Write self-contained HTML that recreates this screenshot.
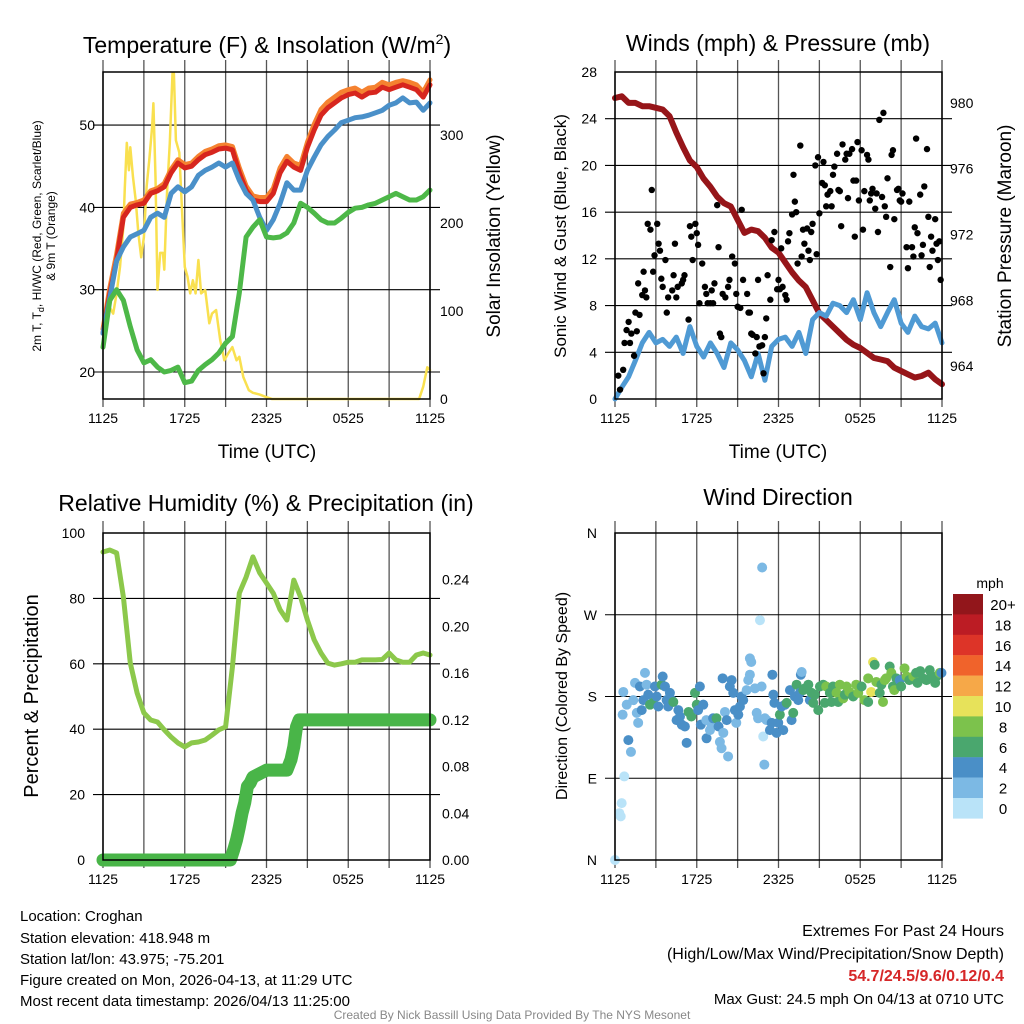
<!DOCTYPE html>
<html><head><meta charset="utf-8"><style>
html,body{margin:0;padding:0;background:#fff;}
svg{display:block;font-family:"Liberation Sans",Arial,sans-serif;}
</style></head><body>
<svg id="fig" width="1024" height="1024" viewBox="0 0 1024 1024" xmlns="http://www.w3.org/2000/svg">
<g id="grids"></g>
<g id="series"></g>
<g id="axes"></g>
<g id="labels" font-size="14" fill="#000"></g>

<text x="267" y="53" font-size="23" text-anchor="middle">Temperature (F) &amp; Insolation (W/m<tspan dy="-9" font-size="14">2</tspan><tspan dy="9">)</tspan></text>
<text x="778" y="51" font-size="23" text-anchor="middle">Winds (mph) &amp; Pressure (mb)</text>
<text x="266" y="511" font-size="23" text-anchor="middle">Relative Humidity (%) &amp; Precipitation (in)</text>
<text x="778" y="505" font-size="23" text-anchor="middle">Wind Direction</text>

<text transform="translate(41,236) rotate(-90)" font-size="12" text-anchor="middle">2m T, T<tspan font-size="9" dy="3">d</tspan><tspan dy="-3">, HI/WC (Red, Green, Scarlet/Blue)</tspan></text>
<text transform="translate(55,236) rotate(-90)" font-size="12" text-anchor="middle">&amp; 9m T (Orange)</text>
<text transform="translate(500,236) rotate(-90)" font-size="19" text-anchor="middle">Solar Insolation (Yellow)</text>
<text x="267" y="458" font-size="19" text-anchor="middle">Time (UTC)</text>
<text transform="translate(566,236) rotate(-90)" font-size="17" text-anchor="middle">Sonic Wind &amp; Gust (Blue, Black)</text>
<text transform="translate(1011,236) rotate(-90)" font-size="19" text-anchor="middle">Station Pressure (Maroon)</text>
<text x="778" y="458" font-size="19" text-anchor="middle">Time (UTC)</text>
<text transform="translate(38,696) rotate(-90)" font-size="20" text-anchor="middle">Percent &amp; Precipitation</text>
<text transform="translate(567,696) rotate(-90)" font-size="16" text-anchor="middle">Direction (Colored By Speed)</text>

<g id="colorbar"></g>
<text x="990" y="588" font-size="14" text-anchor="middle">mph</text>

<g font-size="15">
<text x="20" y="921">Location: Croghan</text>
<text x="20" y="943">Station elevation: 418.948 m</text>
<text x="20" y="964">Station lat/lon: 43.975; -75.201</text>
<text x="20" y="985">Figure created on Mon, 2026-04-13, at 11:29 UTC</text>
<text x="20" y="1006">Most recent data timestamp: 2026/04/13 11:25:00</text>
</g>
<g font-size="15" text-anchor="end">
<text x="1004" y="936" font-size="16">Extremes For Past 24 Hours</text>
<text x="1004" y="959" font-size="16">(High/Low/Max Wind/Precipitation/Snow Depth)</text>
<text x="1004" y="981" font-size="16" font-weight="bold" fill="#d62728">54.7/24.5/9.6/0.12/0.4</text>
<text x="1004" y="1004">Max Gust: 24.5 mph On 04/13 at 0710 UTC</text>
</g>
<text x="512" y="1019" font-size="12" fill="#888" text-anchor="middle">Created By Nick Bassill Using Data Provided By The NYS Mesonet</text>
</svg>
<script>
const xTickLabels = ["1125","1725","2325","0525","1125"];
const tempHours = [0,0.5,1,1.5,2,2.5,3,3.5,4,4.5,5,5.5,6,6.5,7,7.5,8,8.5,9,9.5,10,10.5,11,11.5,12,12.5,13,13.5,14,14.5,15,15.5,16,16.5,17,17.5,18,18.5,19,19.5,20,20.5,21,21.5,22,22.5,23,23.5,24];
const tempRed = [24.7,29.5,33.6,38.8,40,40.3,40.5,41.7,42,42.5,44.2,45.4,44.8,45,45.8,46.4,46.7,47.1,47.2,47,44.2,42.1,40.9,40.7,40.7,41.7,44.2,45.6,44.9,44.5,47.3,49.4,51.2,52.1,52.7,53.3,53.7,53.9,53.4,53.9,54,54.6,54.3,54.6,54.9,54.6,54.3,53.4,54.9];
const tempOrange = [25.2,30.2,34.3,39.3,40.4,40.6,40.9,42,42.3,42.9,44.6,45.8,45.2,45.4,46.2,46.8,47.1,47.5,47.6,47.4,44.8,42.6,41.4,41.2,41.2,42.3,44.8,46.2,45.4,45.1,47.9,50.1,51.9,52.8,53.4,54,54.3,54.5,54,54.5,54.6,55.2,54.9,55.2,55.4,55.2,54.9,54,55.5];
const tempBlue = [24.7,29,33.5,35.2,36.4,36.8,37.2,38.8,39.3,38.8,41.7,42.5,41.9,42.5,43.9,44.5,44.9,45.4,44.9,45.4,43.3,41.7,40.9,38.8,37.2,38.5,40.5,43,42.1,42.1,44.5,46.1,47.6,48.6,49.4,50.3,50.6,50.9,51,51.2,51.5,51.8,52.4,52.7,53.3,52.7,52.8,51.8,52.7];
const tempDew = [23,28.7,30,28.7,25.5,22.7,21.1,21.5,20.6,20,20.2,20.6,18.7,18.9,20.2,20.9,21.5,22.3,23.5,24.3,29.6,36.4,37.6,38.5,36.4,36.3,36.4,36.9,38.1,40.5,40,39.3,38.5,38.1,38.1,38.7,39.4,39.9,40,40.3,40.5,40.9,41.3,41.7,41.3,40.9,40.9,41.3,42.1];
const solarHours = [0,0.25,0.5,0.75,1,1.25,1.5,1.6,1.75,1.9,2,2.2,2.4,2.6,2.8,3,3.2,3.4,3.6,3.7,3.85,4,4.2,4.4,4.5,4.7,4.9,5.1,5.2,5.35,5.6,5.8,6,6.2,6.4,6.6,6.8,7,7.2,7.5,7.8,8,8.3,8.6,8.9,9.2,9.5,9.8,10,10.3,10.7,11,11.5,12,12.4,23.2,23.5,23.8,24];
const solarValues = [59,90,104,97,120,150,196,240,291,260,286,252,226,188,161,184,241,272,309,336,252,124,166,166,147,234,291,370,370,294,280,215,150,139,120,135,120,158,120,124,86,97,101,67,44,52,59,44,48,25,10,7,5,2,0,0,14,36,33];
const windHours = [0,0.5,1,1.5,2,2.5,3,3.5,4,4.5,5,5.5,6,6.5,7,7.5,8,8.5,9,9.5,10,10.5,11,11.5,12,12.5,13,13.5,14,14.5,15,15.5,16,16.5,17,17.5,18,18.5,19,19.5,20,20.5,21,21.5,22,22.5,23,23.5,24];
const windSpeed = [0,1,1.9,3.3,4.8,5.7,4.8,5.1,4.5,5.3,3.9,6.2,4.5,3.6,4.8,3.9,2.7,4.8,4.2,3.3,1.9,3.9,1.6,4.5,5.1,5.3,4.5,5.7,3.9,6.8,7.4,7.1,8.2,8,7.4,8.5,6.8,9.1,7.4,6.2,7.4,8.5,6.5,5.7,7.1,6.2,6,6.5,4.8];
const pressure = [980.3,980.4,980,980,979.8,979.8,979.7,979.6,979.2,978.2,977.3,976.5,976.1,975.4,974.9,974.3,973.9,973.7,972.9,972.1,972.3,972.2,971.8,971.2,970.9,970.3,969.7,969.2,968.8,968,967.2,966.8,966.4,966,965.6,965.3,965.1,964.8,964.5,964.4,964.3,963.9,963.7,963.5,963.3,963.4,963.6,963.2,962.9];
const gustHours = [0.24,0.37,0.6,0.7,0.85,1,1.1,1.2,1.4,1.5,1.6,1.7,1.8,2,2.1,2.2,2.3,2.4,2.6,2.7,2.8,2.9,3.1,3.2,3.3,3.4,3.5,3.7,3.8,3.9,4.2,4.3,4.4,4.5,4.6,4.9,5,5.1,5.4,5.5,5.6,5.7,5.9,6,6.1,6.2,6.4,6.6,6.7,6.8,7,7.1,7.2,7.3,7.5,7.6,7.7,7.8,7.9,8.1,8.3,8.4,8.6,8.8,8.9,9,9.2,9.3,9.4,9.7,9.8,9.9,10,10.1,10.3,10.4,10.5,10.6,10.8,10.9,11,11.1,11.2,11.4,11.5,11.7,11.9,12,12.1,12.2,12.3,12.5,12.6,12.7,12.8,13,13.1,13.2,13.3,13.4,13.6,13.7,13.8,13.9,14.1,14.2,14.3,14.4,14.5,14.7,14.8,14.9,15,15.2,15.3,15.4,15.5,15.6,15.8,15.9,16,16.1,16.3,16.4,16.5,16.6,16.7,16.9,17,17.1,17.2,17.4,17.5,17.6,17.7,17.8,17.9,18.1,18.2,18.3,18.5,18.6,18.7,18.8,18.9,19.1,19.2,19.3,19.4,19.6,19.7,19.8,19.9,20,20.2,20.3,20.4,20.5,20.7,20.8,20.9,21,21.1,21.4,21.5,21.6,21.8,21.9,22,22.1,22.2,22.4,22.5,22.6,22.7,22.9,23,23.1,23.2,23.3,23.5,23.6,23.7,23.8,23.9];
const gustValues = [2,0.8,2.5,4.8,5.9,6.6,4.8,5.6,3.7,7.4,5.8,9.9,7.2,8.9,10.9,9.3,8.7,15,14.5,17.9,10.9,12.3,15,13.3,12.7,10.3,9.6,11.9,7.4,8.7,9.3,10.6,13.3,8.7,9.6,9.9,10.2,10.6,6.8,14.8,13.9,11.9,15,14.2,13.2,8.2,11.6,9.6,9,8.2,8.2,9.3,8.2,9.9,16.6,13,5.6,5.3,9,8.7,9.6,10.2,12.2,11.6,9,7.9,7.8,16.2,10.2,9,7.4,7.4,5.6,5.5,3.9,5.3,10.2,4.5,4.6,2.2,5.3,6.9,10.6,8.5,13.6,14.3,9.4,10.2,9.4,12.9,9.6,8.9,8.5,13.5,14.2,15.8,19.2,16.9,16,11.6,21.7,12.2,14.5,13.3,14.6,12.7,11.9,14.3,15,20,12.4,20.7,15.9,18.5,20.3,18.3,16.5,17.5,17.8,16.5,19.2,19.9,21,17.9,17.8,14.8,21.8,20.5,21,17.2,21,21.4,18.7,13.9,18.7,22,17,21.3,14.5,17.8,20.9,20.5,17,17.6,18,16.3,17.6,14.3,23.9,17.3,24.5,16.5,15.6,18.9,11.3,20.9,21.3,15.4,17.9,18,17,16.9,17.6,13,11.2,16.9,13,12.2,14.7,22.3,14.2,17.5,12.3,13.2,18.2,21.4,15.6,11.3,13.9,12.7,15.4,13.3,11.9,13.5,10.2];
const rhHours = windHours;
const rhValues = [94.2,94.8,93.9,80.4,60.2,51.1,45,42.8,42.2,39.8,37.6,35.8,34.6,35.8,36.1,36.7,38.2,39.8,40.7,59,81.6,86.5,92.7,87.8,84.7,81.6,76.5,73.4,85.6,80.4,73.4,67.3,63.3,60.2,59.6,60,60.5,60.5,61.2,61.2,61.2,61.3,63.3,61.2,60.5,60.5,62.7,63.3,62.7];
const precipHours = [0,2,4,6,8,9,9.35,9.6,9.8,10,10.2,10.4,10.6,10.8,11,11.5,12,13,13.5,13.8,14,14.2,14.4,16,18,20,22,24];
const precipValues = [0,0,0,0,0,0,0,0.009,0.017,0.028,0.04,0.049,0.063,0.066,0.071,0.074,0.077,0.077,0.077,0.086,0.097,0.114,0.12,0.12,0.12,0.12,0.12,0.12];
const dirHours = [0,0.32,0.42,0.49,0.68,0.98,1.17,0.61,0.56,0.86,1.34,1.47,1.6,1.7,1.83,1.96,2.08,2.2,2.32,2.44,2.57,2.8,2.93,3.06,3.18,3.42,3.5,3.67,3.79,3.9,4.03,4.16,4.28,4.52,4.65,4.77,4.9,5.13,5.26,5.4,5.6,5.87,6,6.1,6.23,6.3,6.48,6.7,6.72,6.97,7.09,7.2,7.45,7.6,7.7,7.82,7.95,8.07,8.2,8.3,7.9,8.43,8.56,8.68,8.8,8.9,9.05,9.17,9.29,9.41,9.66,9.78,9.9,10,9.9,10.27,10.4,10.5,10.64,10.8,10.76,10.88,11,10.96,11.13,11.37,11.5,11.55,11.62,11.7,11.86,11.98,12.1,12.23,12.35,12.48,12.6,12.84,12.96,13.08,13.2,13.33,13.45,13.57,13.64,13.7,13.82,13.94,14.19,14.3,14.43,14.55,14.67,14.92,15.04,15.28,15.4,15.5,15.77,15.89,16,16.26,16.38,16.5,16.75,16.87,17,17.2,17.48,17.7,17.85,18.1,18.3,18.58,18.58,18.8,18.94,19.06,19.18,19.43,19.55,19.67,19.8,19.9,20.16,20.28,20.4,20.5,20.65,20.9,21,21.25,21.4,21.6,21.9,22.1,22.2,22.4,22.6,22.86,23.1,23.2,23.5,23.6,23.84,23.96];
const dirDegrees = [0,51.5,48,62.6,92,132,119,185,160,171,176,195,162,151,191,165,176,206,193,182,171,173,191,180,169,193,202,191,176,169,184,176,174,154,165,158,149,147,129,163,158,184,171,165,191,149,171,154,134,143,149,156,156,147,130,123,140,163,154,114,200,191,198,184,165,151,160,169,180,176,187,198,222,218,204,189,162,156,264,322,191,136,156,105,154,143,151,204,182,173,140,151,160,169,143,171,173,187,154,162,180,193,176,184,204,207,187,189,193,176,184,173,182,165,191,193,173,191,184,174,191,184,174,193,178,182,191,185,180,193,184,191,176,174,200,185,218,215,196,184,193,174,198,200,213,206,191,187,200,198,191,211,202,198,202,206,195,208,200,198,209,202,195,202,206,206];
const dirSpeeds = [1,1,1,1,1,5,3,2.5,2.5,3,2.5,2.5,3,3,5,5,5,2.5,3,5,7,7,5,5,5,7,5,5,5,5,5,5,7,5,5,5,5,5,5,7,7,7,7,5,5,5,5,3,5,3,3,5,7,5,2.5,3,3,3,5,3,5,5,5,5,5,3,5,5,5,5,3,3,3,2.5,3,3,3,2.5,1,2.5,3,1,3,3,3,5,5,5,5,5,5,5,7,5,5,5,7,5,5,7,5,7,5,5,5,3,7,7,7,5,7,7,7,7,7,7,7,9,7,7,7,9,7,9,9,7,9,9,7,9,9,7,9,7,9,10.5,10.5,7,9,7,7,9,9,9,7,9,7,9,7,5,7,9,9,7,9,7,7,7,7,7,7,7,7,7,9,5,7,7,7,5,5];
const speedBinLabels = ["20+","18","16","14","12","10","8","6","4","2","0"];
const speedColors = ["#b9e3f8","#7cb9e4","#4a8fc7","#4aa76e","#7cc24c","#e7e25a","#f6a848","#f0632b","#dd3428","#bc1c24","#92161b"];

const NS = "http://www.w3.org/2000/svg";
function mk(parent, tag, attrs){const e=document.createElementNS(NS,tag);for(const k in attrs)e.setAttribute(k,attrs[k]);parent.appendChild(e);return e;}
const G = document.getElementById("grids"), S = document.getElementById("series"), A = document.getElementById("axes"), L = document.getElementById("labels");
function lin(d0,d1,r0,r1){return v=>r0+(v-d0)/(d1-d0)*(r1-r0);}
const P1={x0:103,x1:430,y0:72,y1:399}, P2={x0:615,x1:942,y0:72,y1:399}, P3={x0:103,x1:430,y0:533,y1:860}, P4={x0:615,x1:942,y0:533,y1:860};
function xsOf(p){return lin(0,24,p.x0,p.x1);}

function frame(p, name){
  const xs=xsOf(p);
  for(let h=0;h<=24;h+=3){
    const l=mk(G,"line",{x1:xs(h),x2:xs(h),y1:p.y0-12,y2:p.y1+8,stroke:"#555","stroke-width":1.3});
    
    
  }
  const r=mk(A,"rect",{x:p.x0,y:p.y0,width:p.x1-p.x0,height:p.y1-p.y0,fill:"none",stroke:"#000","stroke-width":1.5});
  
  
  xTickLabels.forEach((t,i)=>{
    const tx=mk(L,"text",{x:xs(i*6),y:p.y1+24,"text-anchor":"middle"});tx.textContent=t;
    
    
  });
}
function hgrid(p, ys, name){
  ys.forEach(y=>{
    const l=mk(G,"line",{x1:p.x0-10,x2:p.x1+10,y1:y,y2:y,stroke:"#000","stroke-width":1.1});
    
    
  });
}
function ylabel(x,y,t,anchor,name){
  const tx=mk(L,"text",{x:x,y:y+5,"text-anchor":anchor});tx.textContent=t;
  
  
}
function path(xs,ys,hs,vs,color,w,name){
  const d=hs.map((h,i)=>(i?"L":"M")+xs(h).toFixed(1)+","+ys(vs[i]).toFixed(1)).join("");
  const e=mk(S,"path",{d:d,fill:"none",stroke:color,"stroke-width":w,"stroke-linejoin":"round","stroke-linecap":"round"});
  
  
}

// Panel 1
frame(P1,"temp");
const x1s=xsOf(P1), tY=lin(20,30,372,289.7), sY=lin(0,100,399,311);
hgrid(P1,[20,30,40,50].map(tY),"temp");
[20,30,40,50].forEach(v=>ylabel(P1.x0-8,tY(v),String(v),"end","temp-y-tick"));
[0,100,200,300].forEach(v=>ylabel(P1.x1+10,sY(v),String(v),"start","solar-y-tick"));
path(x1s,sY,solarHours,solarValues,"#f9e04f",2.5,"solar-line");
path(x1s,tY,tempHours,tempOrange,"#f58230",5,"temp-9m-line");
path(x1s,tY,tempHours,tempRed,"#d7261e",5,"temp-2m-line");
path(x1s,tY,tempHours,tempBlue,"#4a90c9",5,"heat-index-line");
path(x1s,tY,tempHours,tempDew,"#4db848",5,"dewpoint-line");

// Panel 2
frame(P2,"wind");
const x2s=xsOf(P2), wY=lin(0,28,399,72), pY=lin(962,982,399,70);
hgrid(P2,[4,8,12,16,20,24].map(wY),"wind");
[0,4,8,12,16,20,24,28].forEach(v=>ylabel(P2.x0-18,wY(v),String(v),"end","wind-y-tick"));
[964,968,972,976,980].forEach(v=>ylabel(P2.x1+8,pY(v),String(v),"start","pressure-y-tick"));
path(x2s,pY,windHours,pressure,"#961519",6,"pressure-line");
path(x2s,wY,windHours,windSpeed,"#4f9ad4",5,"wind-speed-line");
gustHours.forEach((h,i)=>{
  const c=mk(S,"circle",{cx:x2s(h),cy:wY(gustValues[i]),r:3.2,fill:"#000"});
  
  
});

// Panel 3
frame(P3,"rh");
const x3s=xsOf(P3), rY=lin(0,100,860,533), qY=lin(0,0.28,860,533);
hgrid(P3,[20,40,60,80].map(rY),"rh");
[0,20,40,60,80,100].forEach(v=>ylabel(P3.x0-18,rY(v),String(v),"end","rh-y-tick"));
[0,0.04,0.08,0.12,0.16,0.20,0.24].forEach(v=>ylabel(P3.x1+12,qY(v),v.toFixed(2),"start","precip-y-tick"));
path(x3s,rY,rhHours,rhValues,"#8cc84b",5,"rh-line");
path(x3s,qY,precipHours,precipValues,"#49b548",13,"precip-line");

// Panel 4
frame(P4,"dir");
const x4s=xsOf(P4), dY=lin(0,360,860,533);
hgrid(P4,[90,180,270].map(dY),"dir");
["N","E","S","W","N"].forEach((t,i)=>ylabel(P4.x0-18,dY(i*90),t,"end","dir-y-tick"));
dirHours.forEach((h,i)=>{
  const bin=Math.min(10,Math.floor(dirSpeeds[i]/2));
  const c=mk(S,"circle",{cx:x4s(h),cy:dY(dirDegrees[i]),r:5,fill:speedColors[bin]});
  
  
});

// Colorbar
const CB=document.getElementById("colorbar");
speedBinLabels.forEach((t,i)=>{
  const y=594+i*20.4;
  const r=mk(CB,"rect",{x:953,y:y,width:30,height:20.6,fill:speedColors[10-i]});
  
  
  const tx=mk(CB,"text",{x:1003,y:y+16,"font-size":15,"text-anchor":"middle"});tx.textContent=t;
  
  
});
</script>
</body></html>
